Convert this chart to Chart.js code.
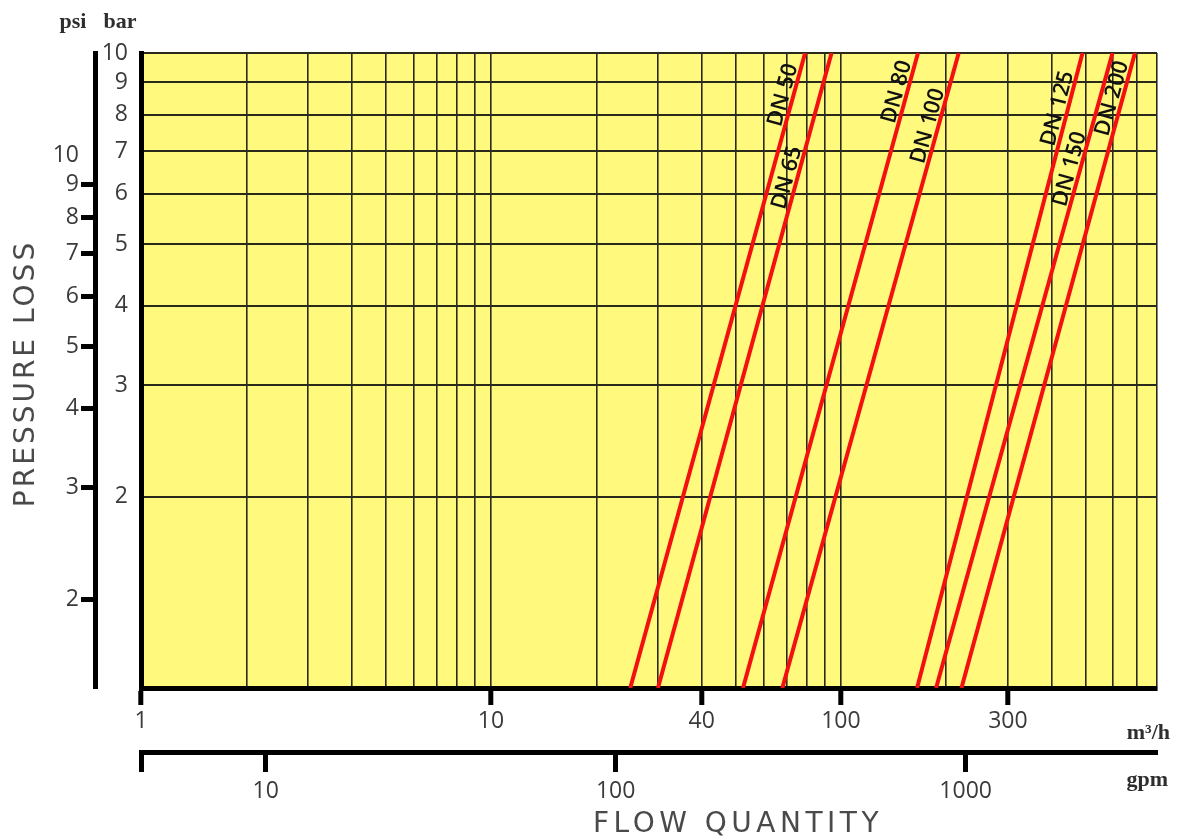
<!DOCTYPE html>
<html>
<head>
<meta charset="utf-8">
<script src="https://cdn.jsdelivr.net/npm/chart.js@4.4.1/dist/chart.umd.min.js"></script>
<style>
  html, body { margin: 0; padding: 0; background: #fff; }
</style>
</head>
<body>
<canvas id="chart" width="1177" height="839"></canvas>
<script>
// pipe sizes, flow (m3/h) where each line meets the bottom (p = 1) and the top (p = 10)
const pipes = ['DN 50', 'DN 65', 'DN 80', 'DN 100', 'DN 125', 'DN 150', 'DN 200'];
const flowAtLow = [25, 30, 52.5, 68, 165, 187, 221];
const flowAtHigh = [79, 94, 166, 217, 490, 597, 692];
const pressureRange = [1, 10];
const flowRange = [1, 800];

// tick labels
const barTicks = [2, 3, 4, 5, 6, 7, 8, 9, 10];
const psiTicks = [2, 3, 4, 5, 6, 7, 8, 9, 10];
const flowLabels = [1, 10, 40, 100, 300];
const gpmLabels = [10, 100, 1000];

const PSI_PER_UNIT = 1.450377;   // top of the bar scale = 14.5 psi
const GPM_PER_M3H = 4.402868;

// vertical grid: 1..9, 10..90, 100..800
const flowGrid = [];
for (let d = 1; d <= 100; d *= 10) {
  for (let k = 1; k <= 9; k++) {
    if (k * d <= flowRange[1]) flowGrid.push(k * d);
  }
}

const tickFont = { family: 'Open Sans', size: 23 };
const tickColor = '#3a3a3a';
const gridColor = '#2a2a1c';

const datasets = pipes.map((name, i) => ({
  label: name,
  data: [
    { x: flowAtLow[i], y: pressureRange[0] },
    { x: flowAtHigh[i], y: pressureRange[1] }
  ],
  borderColor: '#f41010',
  borderWidth: 4,
  pointRadius: 0,
  tension: 0,
  fill: false
}));

// yellow plot background
const plotBg = {
  id: 'plotBg',
  beforeDraw(chart) {
    const { ctx, chartArea: a } = chart;
    ctx.save();
    ctx.fillStyle = '#fff97e';
    ctx.fillRect(a.left, a.top, a.right - a.left, a.bottom - a.top);
    ctx.restore();
  }
};

// DN names written along each line
const lineLabels = {
  id: 'lineLabels',
  afterDatasetsDraw(chart, args, opts) {
    const { ctx } = chart;
    const yScale = chart.scales.y;
    ctx.save();
    ctx.font = '600 22px "Open Sans"';
    ctx.fillStyle = '#111';
    ctx.textAlign = 'center';
    ctx.textBaseline = 'middle';
    chart.data.datasets.forEach((ds, i) => {
      const pts = chart.getDatasetMeta(i).data;
      const p0 = pts[0], p1 = pts[1];
      const ang = Math.atan2(p1.y - p0.y, p1.x - p0.x);
      const py = yScale.getPixelForValue(opts.levels[i]);
      const t = (py - p0.y) / (p1.y - p0.y);
      const px = p0.x + t * (p1.x - p0.x);
      ctx.save();
      ctx.translate(px, py);
      ctx.rotate(ang);
      ctx.fillText(ds.label, 0, -opts.gap);
      ctx.restore();
    });
    ctx.restore();
  }
};

// unit names and axis captions
const captions = {
  id: 'captions',
  afterDraw(chart) {
    const { ctx, chartArea: a } = chart;
    const psi = chart.scales.psi, bar = chart.scales.y;
    const x = chart.scales.x, gpm = chart.scales.gpm;
    ctx.save();
    ctx.fillStyle = '#2e2e2e';
    ctx.font = 'bold 22px "Liberation Serif"';
    ctx.textBaseline = 'middle';
    ctx.textAlign = 'center';
    ctx.fillText('psi', psi.right - 22, 22);
    ctx.fillText('bar', bar.left + 25, 22);
    ctx.textAlign = 'right';
    ctx.fillText('m\u00b3/h', a.right + 13, x.bottom - 19);
    ctx.fillText('gpm', a.right + 11, gpm.top + 28);

    ctx.fillStyle = '#4a4a4a';
    ctx.font = '28px "DejaVu Sans"';
    ctx.letterSpacing = '4.5px';
    ctx.textAlign = 'center';
    ctx.fillText('FLOW QUANTITY', 738, gpm.bottom - 14);
    ctx.letterSpacing = '3px';
    ctx.translate(psi.left + 27, (a.top + a.bottom) / 2 + 3);
    ctx.rotate(-Math.PI / 2);
    ctx.fillText('PRESSURE LOSS', 0, 0);
    ctx.restore();
  }
};

new Chart(document.getElementById('chart'), {
  type: 'line',
  data: { datasets },
  plugins: [plotBg, lineLabels, captions],
  options: {
    responsive: false,
    animation: false,
    layout: { padding: { top: 53, right: 20, bottom: 0, left: 0 } },
    plugins: {
      legend: { display: false },
      tooltip: { enabled: false },
      lineLabels: { levels: [8.5, 6.3, 8.6, 7.6, 8.1, 6.5, 8.4], gap: 10 }
    },
    scales: {
      x: {
        type: 'logarithmic',
        position: 'bottom',
        weight: 0,
        min: flowRange[0],
        max: flowRange[1],
        afterBuildTicks: s => { s.ticks = flowGrid.map(v => ({ value: v })); },
        afterFit: s => { s.height = 64; },
        border: { color: '#000', width: 5 },
        grid: {
          color: gridColor,
          lineWidth: 1.6,
          tickLength: 17,
          tickColor: c => flowLabels.includes(c.tick.value) ? '#000' : 'rgba(0,0,0,0)',
          tickWidth: c => flowLabels.includes(c.tick.value) ? 5 : 0
        },
        ticks: {
          autoSkip: false,
          maxRotation: 0,
          padding: 3,
          color: tickColor,
          font: tickFont,
          callback: v => flowLabels.includes(v) ? String(v) : ''
        }
      },
      gpm: {
        type: 'logarithmic',
        position: 'bottom',
        weight: 1,
        min: flowRange[0] * GPM_PER_M3H,
        max: flowRange[1] * GPM_PER_M3H,
        afterBuildTicks: s => { s.ticks = [s.min, ...gpmLabels].map(v => ({ value: v })); },
        afterFit: s => { s.height = 87; },
        border: { color: '#000', width: 5 },
        grid: { drawOnChartArea: false, tickLength: 20, tickWidth: 5, tickColor: '#000' },
        ticks: {
          autoSkip: false,
          maxRotation: 0,
          padding: 6,
          color: tickColor,
          font: tickFont,
          callback: v => gpmLabels.includes(v) ? String(v) : ''
        }
      },
      y: {
        type: 'logarithmic',
        position: 'left',
        weight: 0,
        min: pressureRange[0],
        max: pressureRange[1],
        afterBuildTicks: s => { s.ticks = barTicks.map(v => ({ value: v })); },
        afterFit: s => { s.width = 46; },
        border: { color: '#000', width: 5 },
        grid: { color: gridColor, lineWidth: 1.9, drawTicks: false },
        ticks: { padding: 13, color: tickColor, font: tickFont, callback: v => String(v) }
      },
      psi: {
        type: 'logarithmic',
        position: 'left',
        weight: 1,
        min: pressureRange[0] * PSI_PER_UNIT,
        max: pressureRange[1] * PSI_PER_UNIT,
        afterBuildTicks: s => { s.ticks = psiTicks.map(v => ({ value: v })); },
        afterFit: s => { s.width = 95; },
        border: { color: '#000', width: 5 },
        grid: {
          drawOnChartArea: false,
          tickLength: 14,
          tickColor: '#000',
          tickWidth: c => c.tick.value === 10 ? 0 : 5
        },
        ticks: { padding: 2, color: tickColor, font: tickFont, callback: v => String(v) }
      }
    }
  }
});
</script>
</body>
</html>
